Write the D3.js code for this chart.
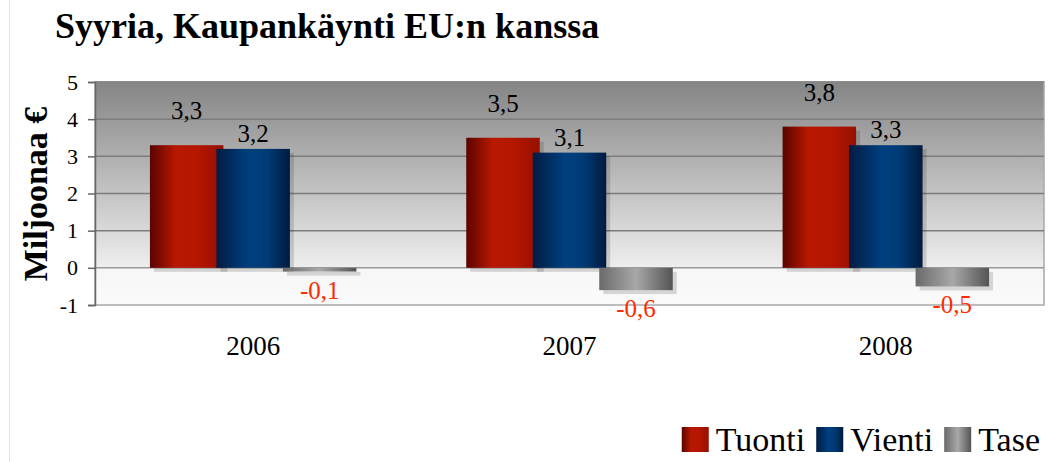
<!DOCTYPE html>
<html>
<head>
<meta charset="utf-8">
<script src="https://cdn.jsdelivr.net/npm/d3@7"></script>
<style>
  body { margin: 0; background: #fff; }
  text { font-family: "Liberation Serif", "Times New Roman", serif; }
</style>
</head>
<body>
<svg width="1050" height="462"></svg>
<script>
// data
const years = ["2006", "2007", "2008"];
const series = ["Tuonti", "Vienti", "Tase"];
const tuonti = [3.3, 3.5, 3.8];
const vienti = [3.2, 3.1, 3.3];
const tase = [-0.1, -0.6, -0.5];
const yTicks = [-1, 0, 1, 2, 3, 4, 5];

const values = { Tuonti: tuonti, Vienti: vienti, Tase: tase };

const margin = {top: 82, right: 6, bottom: 157, left: 95},
  width = 1050 - margin.left - margin.right,
  height = 462 - margin.top - margin.bottom;

const svg = d3.select("svg");
const defs = svg.append("defs");

// faint page edge
svg.append("line")
  .attr("x1", 9.5).attr("x2", 9.5).attr("y1", 0).attr("y2", 462)
  .attr("stroke", "#e4e4e4");

// title
svg.append("text")
  .attr("x", 55).attr("y", 38)
  .attr("font-size", "36px").attr("font-weight", "bold")
  .text("Syyria, Kaupankäynti EU:n kanssa");

// y label
svg.append("text")
  .attr("transform", "translate(47,194) rotate(-90)")
  .attr("text-anchor", "middle")
  .attr("font-size", "34px").attr("font-weight", "bold")
  .text("Miljoonaa €");

const g = svg.append("g")
  .attr("transform", `translate(${margin.left}, ${margin.top})`);

// scales
const y = d3.scaleLinear().domain([-1, 5]).range([height, 0]);
const x = d3.scaleBand().domain(years).range([0, width]);
const groupW = 199.5;
const x1 = d3.scaleBand().domain(series).range([0, groupW]);
const barW = x1.bandwidth() * 1.105;

// plot background gradient
const bg = defs.append("linearGradient").attr("id", "bg")
  .attr("x1", 0).attr("x2", 0).attr("y1", 0).attr("y2", 1);
bg.append("stop").attr("offset", "0%").attr("stop-color", "#858585");
bg.append("stop").attr("offset", (y(0) / height * 100) + "%").attr("stop-color", "#eeeeee");
bg.append("stop").attr("offset", (y(0) / height * 100 + 0.1) + "%").attr("stop-color", "#f6f6f6");
bg.append("stop").attr("offset", "100%").attr("stop-color", "#fbfbfb");

g.append("rect")
  .attr("width", width).attr("height", height)
  .attr("fill", "url(#bg)")
  .attr("stroke", "#a8a8a8").attr("stroke-width", 1.5);

// gridlines
g.selectAll(".grid")
  .data(yTicks.filter(t => t > -1))
  .join("line")
  .attr("x1", 0).attr("x2", width)
  .attr("y1", d => y(d)).attr("y2", d => y(d))
  .attr("stroke", d => d === 0 ? "#9a9a9a" : "#7c7c7c")
  .attr("stroke-width", 1.5);

// y axis
const yAxis = g.append("g")
  .call(d3.axisLeft(y).tickValues(yTicks).tickSize(7).tickPadding(10)
    .tickFormat(d => String(d)));
yAxis.select(".domain").attr("stroke", "#666").attr("stroke-width", 1.5);
yAxis.selectAll(".tick line").attr("stroke", "#666").attr("stroke-width", 1.5);
yAxis.selectAll("text").attr("font-size", "22px").attr("fill", "#000");

// x labels
g.selectAll(".xlab")
  .data(years)
  .join("text")
  .attr("x", d => x(d) + x.bandwidth() / 2)
  .attr("y", height + 50)
  .attr("text-anchor", "middle")
  .attr("font-size", "27px")
  .text(d => d);

// bar gradients
const grads = {
  Tuonti: [["0%", "#5a0400"], ["35%", "#b81800"], ["65%", "#b41600"], ["100%", "#961000"]],
  Vienti: [["0%", "#001c44"], ["45%", "#004080"], ["70%", "#003a74"], ["100%", "#001a3e"]],
  Tase:   [["0%", "#6a6a6a"], ["50%", "#a8a8a8"], ["100%", "#545454"]]
};
series.forEach(s => {
  const lg = defs.append("linearGradient").attr("id", "g" + s)
    .attr("x1", 0).attr("x2", 1).attr("y1", 0).attr("y2", 0);
  grads[s].forEach(st => lg.append("stop").attr("offset", st[0]).attr("stop-color", st[1]));
});

const bars = [];
series.forEach(s => years.forEach((yr, i) => bars.push({s: s, year: yr, v: values[s][i]})));

const barX = d => x(d.year) + x.bandwidth() / 2 - (groupW + barW - x1.bandwidth()) / 2 + x1(d.s);

// shadows
g.selectAll(".shadow")
  .data(bars)
  .join("rect")
  .attr("x", d => barX(d) + 4)
  .attr("y", d => Math.min(y(d.v), y(0)) + 4)
  .attr("width", barW)
  .attr("height", d => Math.abs(y(d.v) - y(0)))
  .attr("fill", "rgba(0,0,0,0.14)");

// draw in order so Vienti overlaps Tuonti, Tase overlaps Vienti
g.selectAll(".bar")
  .data(bars)
  .join("rect")
  .attr("x", d => barX(d))
  .attr("y", d => Math.min(y(d.v), y(0)))
  .attr("width", barW)
  .attr("height", d => Math.abs(y(d.v) - y(0)))
  .attr("fill", d => `url(#g${d.s})`);

// value labels
const labOff = {Tuonti: -26, Vienti: -7, Tase: 27};
g.selectAll(".val")
  .data(bars)
  .join("text")
  .attr("x", d => barX(d) + barW / 2)
  .attr("y", d => y(d.v) + labOff[d.s])
  .attr("text-anchor", "middle")
  .attr("font-size", "25px")
  .attr("fill", d => d.v < 0 ? "#ff2a00" : "#000")
  .text(d => String(d.v).replace(".", ","));

// legend, laid out from the right
const legend = svg.append("g");
let lx = 1040;
series.slice().reverse().forEach(s => {
  const t = legend.append("text")
    .attr("y", 451)
    .attr("font-size", "34px")
    .text(s);
  const w = t.node().getComputedTextLength();
  lx -= w;
  t.attr("x", lx);
  lx -= 34;
  legend.append("rect")
    .attr("x", lx).attr("y", 427)
    .attr("width", 27).attr("height", 25)
    .attr("fill", `url(#g${s})`);
  lx -= 11;
});
</script>
</body>
</html>
